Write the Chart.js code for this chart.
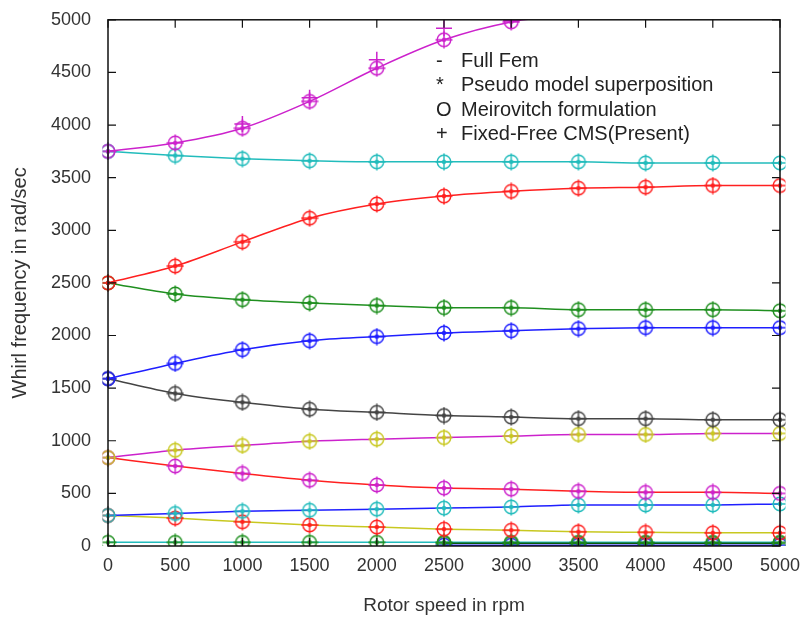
<!DOCTYPE html>
<html>
<head>
<meta charset="utf-8">
<script src="https://cdn.jsdelivr.net/npm/chart.js@4/dist/chart.umd.min.js"></script>
<style>
  html, body { margin: 0; padding: 0; background: #fff; }
  #wrap { width: 802px; height: 619px; }
</style>
</head>
<body>
<div id="wrap"><canvas id="whirl"></canvas></div>
<script>
// ======================
// Data
// ======================
const speeds = ["0", "500", "1000", "1500", "2000", "2500", "3000", "3500", "4000", "4500", "5000"];

const topFwd   = [3750, 3830, 3970, 4225, 4540, 4810, 4980, 5060, 5120, 5160, 5190];
const topBwd   = [3750, 3710, 3680, 3660, 3650, 3650, 3650, 3650, 3640, 3640, 3640];
const m3Fwd    = [2500, 2660, 2890, 3115, 3250, 3325, 3370, 3400, 3410, 3425, 3425];
const m3Bwd    = [2500, 2395, 2340, 2310, 2285, 2265, 2265, 2245, 2245, 2245, 2235];
const m2Fwd    = [1590, 1735, 1865, 1950, 1990, 2025, 2045, 2065, 2075, 2075, 2075];
const m2Bwd    = [1590, 1450, 1365, 1300, 1270, 1240, 1225, 1210, 1210, 1200, 1200];
const m1Fwd    = [840, 910, 955, 995, 1015, 1030, 1045, 1060, 1060, 1070, 1070];
const m1Bwd    = [840, 760, 690, 625, 580, 550, 540, 520, 510, 510, 500];
const m0Fwd    = [290, 310, 330, 340, 350, 360, 370, 390, 390, 390, 400];
const m0Bwd    = [290, 265, 230, 200, 180, 160, 150, 135, 130, 125, 125];
const rigid    = [35, 35, 35, 35, 35, 35, 35, 35, 35, 35, 35];
const rigidLow = [null, null, null, null, null, 8, 8, 8, 8, 8, 8];
const rigidMid = [null, null, null, null, null, 25, 25, 25, 25, 25, 25];

// Fixed-Free CMS "+" marks that sit apart from the top curve
const cmsTop   = [null, null, 4010, 4260, 4620, 4920, 4990, null, null, null, null];

const legendLines = [
  ["-", "Full Fem"],
  ["*", "Pseudo model superposition"],
  ["O", "Meirovitch formulation"],
  ["+", "Fixed-Free CMS(Present)"],
];

// ======================
// Colours + markers
// ======================
const C = {
  magenta: "#cc22cc",
  cyan: "#22bcbc",
  red: "#ff2020",
  green: "#1f8f1f",
  blue: "#1f1fff",
  gray: "#444444",
  yellow: "#c8c820",
  dkgreen: "#0b5a0b",
};

const FONT = "'Liberation Sans', Arial, sans-serif";

// circle with a cross and a centre dot, gnuplot-ish
function marker(color) {
  const c = document.createElement("canvas");
  c.width = 18; c.height = 18;
  const g = c.getContext("2d");
  g.strokeStyle = color;
  g.fillStyle = color;
  g.lineWidth = 1.4;
  g.beginPath(); g.arc(9, 9, 6.8, 0, Math.PI * 2); g.stroke();
  g.beginPath();
  g.moveTo(9, 0.5); g.lineTo(9, 17.5);
  g.moveTo(0.5, 9); g.lineTo(17.5, 9);
  g.stroke();
  g.beginPath(); g.arc(9, 9, 2.2, 0, Math.PI * 2); g.fill();
  return c;
}

function series(data, lineColor, markColor) {
  return {
    data: data,
    borderColor: lineColor,
    borderWidth: 1.5,
    pointStyle: marker(markColor || lineColor),
    cubicInterpolationMode: "monotone",
    spanGaps: false,
  };
}

// ======================
// Frame, inward ticks, legend text
// ======================
const framePlugin = {
  id: "frame",
  afterDraw(chart) {
    const { ctx, chartArea: a, scales } = chart;
    ctx.save();
    ctx.strokeStyle = "#111";
    ctx.lineWidth = 1.5;
    ctx.strokeRect(a.left, a.top, a.right - a.left, a.bottom - a.top);
    ctx.lineWidth = 1.2;
    ctx.beginPath();
    scales.y.ticks.forEach((t, i) => {
      const y = scales.y.getPixelForTick(i);
      ctx.moveTo(a.left, y); ctx.lineTo(a.left + 8, y);
      ctx.moveTo(a.right, y); ctx.lineTo(a.right - 8, y);
    });
    scales.x.ticks.forEach((t, i) => {
      const x = scales.x.getPixelForTick(i);
      ctx.moveTo(x, a.bottom); ctx.lineTo(x, a.bottom - 8);
      ctx.moveTo(x, a.top); ctx.lineTo(x, a.top + 8);
    });
    ctx.stroke();

    // legend written as plain text, no swatches
    ctx.fillStyle = "#222";
    ctx.font = "20px " + FONT;
    ctx.textBaseline = "middle";
    legendLines.forEach((l, i) => {
      const y = 61 + i * 24.5;
      ctx.fillText(l[0], 436, y);
      ctx.fillText(l[1], 461, y);
    });
    ctx.restore();
  },
};

const tickFont = { family: FONT, size: 18 };

new Chart(document.getElementById("whirl"), {
  type: "line",
  data: {
    labels: speeds,
    datasets: [
      series(topFwd, C.magenta),
      series(topBwd, C.cyan),
      series(m3Fwd, C.red),
      series(m3Bwd, C.green),
      series(m2Fwd, C.blue),
      series(m2Bwd, C.gray),
      series(m1Fwd, C.magenta, C.yellow),
      series(m1Bwd, C.red, C.magenta),
      series(m0Fwd, C.blue, C.cyan),
      series(m0Bwd, C.yellow, C.red),
      series(rigidMid, C.dkgreen, C.green),
      series(rigid, C.cyan, C.green),
      series(rigidLow, C.blue, C.blue),
      {
        data: cmsTop,
        showLine: false,
        pointStyle: "cross",
        pointRadius: 8,
        borderColor: C.magenta,
        borderWidth: 1.5,
      },
    ],
  },
  options: {
    responsive: true,
    maintainAspectRatio: false,
    animation: false,
    layout: { padding: { top: 16, right: 22, left: 0, bottom: 0 } },
    plugins: {
      legend: { display: false },
      tooltip: { enabled: false },
    },
    scales: {
      x: {
        offset: false,
        grid: { display: false },
        border: { display: false },
        ticks: { color: "#333", font: tickFont, maxRotation: 0, padding: 1 },
        title: {
          display: true,
          text: "Rotor speed in rpm",
          color: "#333",
          font: { family: FONT, size: 19 },
          padding: { top: 8, bottom: 2 },
        },
        afterFit: (s) => { s.height = 73; },
      },
      y: {
        min: 0,
        max: 5000,
        ticks: {
          stepSize: 500,
          color: "#333",
          font: tickFont,
          padding: 9,
          callback: (v) => String(v),
        },
        grid: { display: false },
        border: { display: false },
        title: {
          display: true,
          text: "Whirl frequency in rad/sec",
          color: "#333",
          font: { family: FONT, size: 20 },
          padding: { top: 8, bottom: 4 },
        },
        afterFit: (s) => { s.width = 108; },
      },
    },
  },
  plugins: [framePlugin],
});
</script>
</body>
</html>
